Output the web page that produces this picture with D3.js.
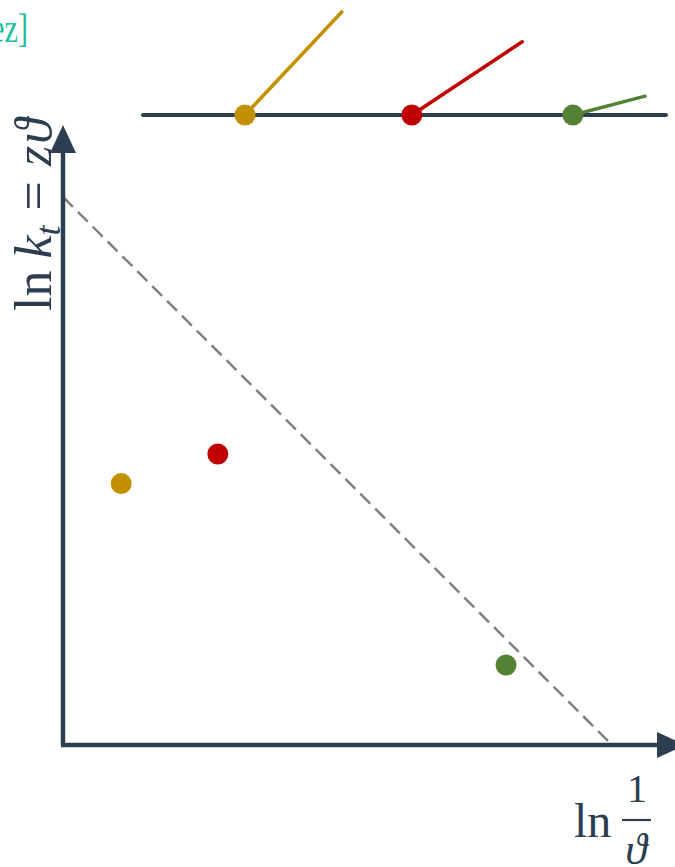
<!DOCTYPE html>
<html>
<head>
<meta charset="utf-8">
<script src="https://cdn.jsdelivr.net/npm/d3@7"></script>
<style>
  html, body { margin: 0; padding: 0; background: #fff; }
  svg { display: block; }
  text { font-family: "Liberation Serif", "DejaVu Serif", serif; }
</style>
</head>
<body>
<svg id="chart" width="675" height="867"></svg>
<script>
// Series: three observations, each with its colour
const seriesNames = ["gold", "red", "green"];
const seriesColors = ["#C39100", "#C00000", "#548235"];

// Lower panel: observed (ln 1/ϑ, ln k_t) pairs
const pointX = [1.06, 2.82, 8.07];
const pointY = [4.77, 5.31, 1.46];

// Reference line ln k_t = zϑ, given by its two intercepts
const refLineX = [0, 10];
const refLineY = [10, 0];

// Upper strip: position of each marker on the line and the tip of its stick
const markerPos = [1.95, 5.14, 8.22];
const stickTipX = [3.80, 7.25, 9.60];
const stickTipY = [1.97, 1.40, 0.36];

const navy = "#2C3E50";
const svg = d3.select("#chart");

// Scales
const x = d3.scaleLinear().domain([0, 10]).range([63, 612]);
const y = d3.scaleLinear().domain([0, 10]).range([745, 197]);
const tx = d3.scaleLinear().domain([0, 10]).range([143, 666]);
const ty = d3.scaleLinear().domain([0, 10]).range([115, -408]);

// Corner label
svg.append("text")
  .attr("x", -9).attr("y", 42)
  .attr("font-size", 40)
  .attr("textLength", 37)
  .attr("lengthAdjust", "spacingAndGlyphs")
  .attr("fill", "#1FBF9F")
  .text("ez]");

// Upper strip: base line, sticks and markers
svg.append("line")
  .attr("x1", tx(0)).attr("x2", tx(10))
  .attr("y1", ty(0)).attr("y2", ty(0))
  .attr("stroke", navy).attr("stroke-width", 4)
  .attr("stroke-linecap", "round");

const strip = svg.append("g");
markerPos.forEach((p, i) => {
  strip.append("line")
    .attr("x1", tx(p)).attr("y1", ty(0))
    .attr("x2", tx(stickTipX[i])).attr("y2", ty(stickTipY[i]))
    .attr("stroke", seriesColors[i]).attr("stroke-width", 3.5)
    .attr("stroke-linecap", "round");
  strip.append("circle")
    .attr("cx", tx(p)).attr("cy", ty(0)).attr("r", 10.5)
    .attr("fill", seriesColors[i]);
});

// Dashed reference line
svg.append("line")
  .attr("x1", x(refLineX[0])).attr("y1", y(refLineY[0]))
  .attr("x2", x(refLineX[1])).attr("y2", y(refLineY[1]))
  .attr("stroke", "#808080").attr("stroke-width", 2.5)
  .attr("stroke-dasharray", "14,7");

// Axes with arrowheads
const x0 = x(0), y0 = y(0);
svg.append("line")
  .attr("x1", x0).attr("y1", y0).attr("x2", x0).attr("y2", 150)
  .attr("stroke", navy).attr("stroke-width", 4.5);
svg.append("line")
  .attr("x1", x0 - 2).attr("y1", y0).attr("x2", 660).attr("y2", y0)
  .attr("stroke", navy).attr("stroke-width", 4.5);
svg.append("path")
  .attr("d", `M${x0},125 L${x0 + 13},153 L${x0 - 13},153 Z`)
  .attr("fill", navy);
svg.append("path")
  .attr("d", `M685,${y0} L657,${y0 - 13} L657,${y0 + 13} Z`)
  .attr("fill", navy);

// Data points
svg.append("g").selectAll("circle")
  .data(seriesNames)
  .join("circle")
  .attr("cx", (d, i) => x(pointX[i]))
  .attr("cy", (d, i) => y(pointY[i]))
  .attr("r", 10.5)
  .attr("fill", (d, i) => seriesColors[i]);

// Y axis title: ln k_t = zϑ
const yt = svg.append("text")
  .attr("transform", "translate(51,311) rotate(-90)")
  .attr("font-size", 52)
  .attr("fill", navy);
yt.append("tspan").text("ln");
yt.append("tspan").attr("dx", 12).attr("font-style", "italic").text("k");
yt.append("tspan").attr("font-style", "italic").attr("font-size", 36)
  .attr("dy", 9).text("t");
yt.append("tspan").attr("dy", -9).attr("dx", 15).text("=");
yt.append("tspan").attr("dx", 15).attr("font-style", "italic").text("z");
yt.append("tspan").attr("dx", 2).attr("font-style", "italic").text("ϑ");

// X axis title: ln 1/ϑ
svg.append("text")
  .attr("x", 574).attr("y", 837)
  .attr("font-size", 48).attr("fill", navy)
  .text("ln");
svg.append("text")
  .attr("x", 637).attr("y", 802)
  .attr("text-anchor", "middle")
  .attr("font-size", 40).attr("fill", navy)
  .text("1");
svg.append("line")
  .attr("x1", 622).attr("x2", 651).attr("y1", 820).attr("y2", 820)
  .attr("stroke", navy).attr("stroke-width", 2.2);
svg.append("text")
  .attr("x", 636).attr("y", 864)
  .attr("text-anchor", "middle")
  .attr("font-size", 44).attr("font-style", "italic").attr("fill", navy)
  .text("ϑ");
</script>
</body>
</html>
